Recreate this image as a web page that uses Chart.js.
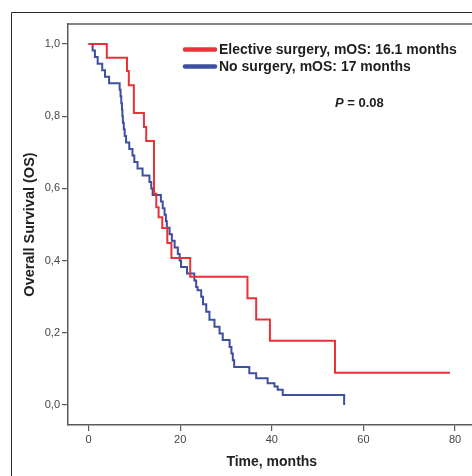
<!DOCTYPE html>
<html>
<head>
<meta charset="utf-8">
<script src="https://cdn.jsdelivr.net/npm/chart.js@4/dist/chart.umd.min.js"></script>
<style>
  html, body { margin: 0; padding: 0; background: #fff; overflow: hidden; }
  #wrap { position: relative; width: 472px; height: 476px; }
</style>
</head>
<body>
<div id="wrap"><canvas id="c" width="472" height="476"></canvas></div>
<script>
// ---- data ----
const seriesLabels = ['Elective surgery, mOS: 16.1 months', 'No surgery, mOS: 17 months'];
const redTimes = [0, 4.0, 8.4, 8.8, 9.9, 12.1, 12.6, 14.3, 14.8, 15.3, 16.1, 17.2, 18.1, 22.2, 34.7, 36.6, 39.6, 53.8, 78.9];
const redSurv  = [1.0, 0.962, 0.925, 0.886, 0.809, 0.770, 0.731, 0.585, 0.548, 0.520, 0.490, 0.449, 0.407, 0.355, 0.296, 0.237, 0.178, 0.089, 0.089];
const blueTimes = [0, 0.9, 1.4, 2.0, 3.0, 3.6, 4.5, 6.8, 7.0, 7.15, 7.3, 7.4, 7.5, 7.7, 7.9, 8.2, 8.9, 9.6, 10.0, 10.7, 11.8, 13.3, 13.7, 14.0, 15.8, 16.2, 16.6, 16.9, 17.1, 17.7, 18.2, 18.8, 19.5, 19.9, 20.2, 21.5, 23.1, 23.5, 23.8, 24.6, 25.0, 25.7, 26.4, 27.5, 28.6, 29.3, 30.8, 31.2, 31.5, 31.8, 35.1, 36.6, 39.1, 40.6, 41.3, 42.4, 55.8];
const blueSurv  = [1.0, 0.982, 0.964, 0.945, 0.927, 0.909, 0.891, 0.873, 0.855, 0.836, 0.818, 0.800, 0.782, 0.764, 0.745, 0.727, 0.709, 0.691, 0.673, 0.655, 0.636, 0.618, 0.600, 0.582, 0.564, 0.545, 0.527, 0.509, 0.491, 0.473, 0.455, 0.436, 0.418, 0.400, 0.382, 0.364, 0.345, 0.327, 0.318, 0.300, 0.279, 0.258, 0.236, 0.217, 0.198, 0.180, 0.161, 0.143, 0.124, 0.105, 0.088, 0.074, 0.060, 0.051, 0.042, 0.028, 0.0];
const xTickValues = [0, 20, 40, 60, 80];
const yTickValues = [0, 0.2, 0.4, 0.6, 0.8, 1.0];
const yTickLabels = ['0,0', '0,2', '0,4', '0,6', '0,8', '1,0'];
const xTitle = 'Time, months';
const yTitle = 'Overall Survival (OS)';
const pLabel = 'P';
const pValueText = ' = 0.08';

const FONT = '"Liberation Sans", Arial, Helvetica, sans-serif';
const RED = '#e8323a';
const BLUE = '#3d4f9f';
const AXIS = '#5a5a5a';

const toPts = (ts, ss) => ts.map((t, i) => ({ x: t, y: ss[i] }));

const decor = {
  id: 'decor',
  beforeDraw(chart) {
    const ctx = chart.ctx;
    ctx.save();
    ctx.fillStyle = '#fff';
    ctx.fillRect(0, 0, chart.width, chart.height);
    // outer frame (cropped at right and bottom)
    ctx.strokeStyle = '#2a2a2a';
    ctx.lineWidth = 1;
    ctx.beginPath();
    ctx.moveTo(11.5, chart.height);
    ctx.lineTo(11.5, 12.5);
    ctx.lineTo(chart.width, 12.5);
    ctx.stroke();
    ctx.restore();
  },
  afterDraw(chart) {
    const ctx = chart.ctx;
    const a = chart.chartArea;
    const xs = chart.scales.x, ys = chart.scales.y;
    ctx.save();
    // top frame line of the plot box
    ctx.strokeStyle = AXIS;
    ctx.lineWidth = 1.5;
    ctx.beginPath();
    ctx.moveTo(a.left, a.top);
    ctx.lineTo(a.right, a.top);
    ctx.stroke();

    // axis titles
    ctx.fillStyle = '#222';
    ctx.font = 'bold 14px ' + FONT;
    ctx.textAlign = 'center';
    ctx.textBaseline = 'middle';
    ctx.fillText(xTitle, xs.getPixelForValue(40), 462);
    ctx.save();
    ctx.translate(30, (ys.getPixelForValue(0) + ys.getPixelForValue(1)) / 2);
    ctx.rotate(-Math.PI / 2);
    ctx.font = 'bold 14.5px ' + FONT;
    ctx.fillText(yTitle, 0, 0);
    ctx.restore();

    // legend
    const ds = chart.data.datasets;
    const rows = [49.5, 66.5];
    ds.forEach((d, i) => {
      const y = rows[i];
      ctx.strokeStyle = d.borderColor;
      ctx.lineWidth = 4.5;
      ctx.lineCap = 'round';
      ctx.beginPath();
      ctx.moveTo(185, y);
      ctx.lineTo(215, y);
      ctx.stroke();
      ctx.fillStyle = '#1e1e1e';
      ctx.font = 'bold 14px ' + FONT;
      ctx.textAlign = 'left';
      ctx.textBaseline = 'middle';
      ctx.fillText(d.label, 219, y + 0.5);
    });

    // P value
    ctx.textAlign = 'left';
    ctx.textBaseline = 'middle';
    ctx.font = 'italic bold 13px ' + FONT;
    ctx.fillText(pLabel, 335, 103);
    const w = ctx.measureText(pLabel).width;
    ctx.font = 'bold 13px ' + FONT;
    ctx.fillText(pValueText, 335 + w, 103);
    ctx.restore();
  }
};

new Chart(document.getElementById('c'), {
  type: 'line',
  data: {
    datasets: [
      { label: seriesLabels[0], data: toPts(redTimes, redSurv), borderColor: RED, backgroundColor: RED,
        borderWidth: 2, pointRadius: 0, stepped: 'before', fill: false },
      { label: seriesLabels[1], data: toPts(blueTimes, blueSurv), borderColor: BLUE, backgroundColor: BLUE,
        borderWidth: 2, pointRadius: 0, stepped: 'before', fill: false }
    ]
  },
  options: {
    responsive: false,
    animation: false,
    devicePixelRatio: 1,
    layout: { padding: { top: 24, left: 0, right: 0, bottom: 0 } },
    plugins: { legend: { display: false }, tooltip: { enabled: false } },
    scales: {
      x: {
        type: 'linear',
        min: -4.475, max: 83.71,
        afterBuildTicks: s => { s.ticks = xTickValues.map(v => ({ value: v })); },
        afterFit: s => { s.height = 51; },
        ticks: { color: '#444', font: { family: FONT, size: 11 }, padding: 2, maxRotation: 0, autoSkip: false },
        grid: { display: true, drawOnChartArea: false, drawTicks: true, tickLength: 6, color: AXIS, lineWidth: 1.2 },
        border: { display: true, color: AXIS, width: 1.5 }
      },
      y: {
        type: 'linear',
        min: -0.0554, max: 1.0554,
        afterBuildTicks: s => { s.ticks = yTickValues.map(v => ({ value: v })); },
        afterFit: s => { s.width = 68; },
        ticks: {
          color: '#444', font: { family: FONT, size: 11 }, padding: 2, autoSkip: false,
          callback: (v) => { const i = yTickValues.findIndex(t => Math.abs(t - v) < 1e-6); return i >= 0 ? yTickLabels[i] : ''; }
        },
        grid: { display: true, drawOnChartArea: false, drawTicks: true, tickLength: 6, color: AXIS, lineWidth: 1.2 },
        border: { display: true, color: AXIS, width: 1.5 }
      }
    }
  },
  plugins: [decor]
});
</script>
</body>
</html>
